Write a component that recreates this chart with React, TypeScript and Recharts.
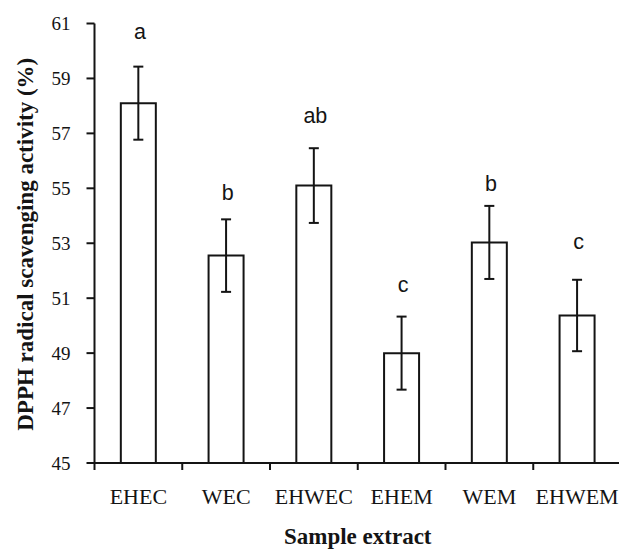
import React from 'react';
import { ComposedChart, Bar, Line, XAxis, YAxis, ErrorBar, LabelList } from 'recharts';

const categories = ['EHEC', 'WEC', 'EHWEC', 'EHEM', 'WEM', 'EHWEM'];
const activity = [58.1, 52.55, 55.1, 49.0, 53.03, 50.37];
const errors = [1.33, 1.32, 1.36, 1.33, 1.33, 1.3];
const letters = ['a', 'b', 'ab', 'c', 'b', 'c'];
const letterValues = [60.43, 54.56, 57.37, 51.21, 54.92, 52.8];
const yTicks = [45, 47, 49, 51, 53, 55, 57, 59, 61];
const yTitle = 'DPPH radical scavenging activity (%)';
const xTitle = 'Sample extract';

const data = categories.map((name, i) => ({
  name,
  value: activity[i],
  err: errors[i],
  letter: letters[i],
  letterY: letterValues[i],
}));

const W = 621;
const H = 549;
const LEFT = 94.5;
const TOP = 23.5;
const XH = 86;
const INK = '#141414';
const SERIF = 'Liberation Serif';
const SANS = 'Liberation Sans';

const XTick = (props: any) => {
  const { x, y, payload } = props;
  const half = (W - LEFT) / categories.length / 2;
  return (
    <g>
      <line x1={x - half} y1={y} x2={x - half} y2={y + 7} stroke={INK} strokeWidth={2} />
      <text x={x} y={y + 41} textAnchor="middle" style={{ fontFamily: SERIF, fontSize: 22 }} fill={INK}>
        {payload.value}
      </text>
    </g>
  );
};

const YTick = (props: any) => {
  const { x, y, payload } = props;
  return (
    <text x={x} y={y} dy={6.5} textAnchor="end" style={{ fontFamily: SERIF, fontSize: 19 }} fill={INK}>
      {payload.value}
    </text>
  );
};

const YTitle = (props: any) => {
  const vb = props.viewBox || { y: TOP, height: H - TOP - XH };
  const cy = vb.y + vb.height / 2 + 1;
  const cx = 32.5;
  return (
    <text
      x={cx}
      y={cy}
      transform={`rotate(-90, ${cx}, ${cy})`}
      textAnchor="middle"
      style={{ fontFamily: SERIF, fontWeight: 'bold', fontSize: 23 }}
      fill={INK}
    >
      {yTitle}
    </text>
  );
};

const XTitle = (props: any) => {
  const vb = props.viewBox || { x: LEFT, width: W - LEFT };
  const cx = vb.x + vb.width / 2;
  return (
    <text x={cx} y={544} textAnchor="middle" style={{ fontFamily: SERIF, fontWeight: 'bold', fontSize: 23 }} fill={INK}>
      {xTitle}
    </text>
  );
};

const LetterLabel = (props: any) => {
  const { x, y, value } = props;
  return (
    <text x={x + 1.5} y={y} textAnchor="middle" style={{ fontFamily: SANS, fontSize: 21.5 }} fill={INK}>
      {value}
    </text>
  );
};

export default function App() {
  return (
    <div
      style={{
        position: 'absolute',
        left: 0,
        top: 0,
        width: 619,
        height: 549,
        overflow: 'hidden',
        background: '#fff',
      }}
    >
      <ComposedChart
        width={W}
        height={H}
        data={data}
        margin={{ top: TOP, right: 0, bottom: 0, left: 0 }}
        barCategoryGap="30%"
      >
        <XAxis
          dataKey="name"
          height={XH}
          tickSize={0}
          tickMargin={0}
          tickLine={false}
          axisLine={{ stroke: INK, strokeWidth: 2 }}
          tick={<XTick />}
          interval={0}
          label={<XTitle />}
        />
        <YAxis
          width={LEFT}
          domain={[45, 61]}
          ticks={yTicks}
          interval={0}
          tickSize={8}
          tickMargin={16}
          axisLine={{ stroke: INK, strokeWidth: 2 }}
          tickLine={{ stroke: INK, strokeWidth: 2 }}
          tick={<YTick />}
          label={<YTitle />}
        />
        <Bar dataKey="value" fill="#fff" stroke={INK} strokeWidth={2} isAnimationActive={false}>
          <ErrorBar dataKey="err" width={5} stroke={INK} strokeWidth={2} direction="y" />
        </Bar>
        <Line
          dataKey="letterY"
          stroke="none"
          dot={false}
          activeDot={false}
          legendType="none"
          isAnimationActive={false}
        >
          <LabelList dataKey="letter" content={<LetterLabel />} />
        </Line>
      </ComposedChart>
    </div>
  );
}
